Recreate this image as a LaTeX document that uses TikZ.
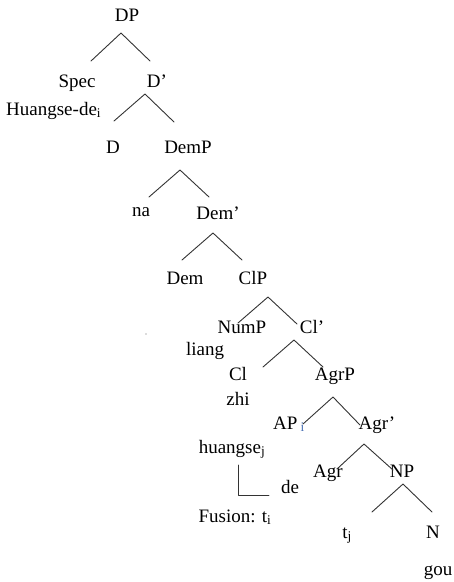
\documentclass[tikz,border=0pt]{standalone}
\usepackage{fontspec}
\setmainfont{Liberation Serif}
\definecolor{subblue}{RGB}{70,110,180}
\tikzset{
	lbl/.style={anchor=base, inner sep=0pt, font=\fontsize{19}{21}\selectfont},
	branch/.style={draw=black!80, line width=0.9pt},
}
\begin{document}
\begin{tikzpicture}[x=1pt, y=-1pt, line cap=round, line join=round]
	\useasboundingbox (0,0) rectangle (454,582);
	
	% tree labels
	\node[lbl] (dp) at (127,21) {DP};
	\node[lbl] (spec) at (77,87) {Spec};
	\node[lbl] (dbar) at (157,87) {D'};
	\node[lbl, anchor=base west] (hdei) at (6,115) {Huangse-de\textsubscript{i}};
	\node[lbl] (d) at (113,153) {D};
	\node[lbl] (demp) at (188,153) {DemP};
	\node[lbl] (na) at (141,216) {na};
	\node[lbl] (dembar) at (218,219) {Dem'};
	\node[lbl] (dem) at (185,284) {Dem};
	\node[lbl] (clp) at (253,284) {ClP};
	\node[lbl] (nump) at (242,333) {NumP};
	\node[lbl] (clbar) at (312,333) {Cl'};
	\node[lbl] (liang) at (205,355) {liang};
	\node[lbl] (cl) at (238,380) {Cl};
	\node[lbl] (agrp) at (335,380) {AgrP};
	\node[lbl] (zhi) at (238,405) {zhi};
	\node[lbl, anchor=base west] (ap) at (273,429) {AP\,\textsubscript{\color{subblue}i}};
	\node[lbl] (agrbar) at (377,429) {Agr'};
	\node[lbl] (huangse) at (232,453) {huangse\textsubscript{j}};
	\node[lbl] (agr) at (328,477) {Agr};
	\node[lbl] (np) at (402,477) {NP};
	\node[lbl] (de) at (290,493) {de};
	\node[lbl] (fusion) at (235,522) {Fusion: t\textsubscript{i}};
	\node[lbl] (tj) at (347,538) {t\textsubscript{j}};
	\node[lbl] (n) at (433,538) {N};
	\node[lbl] (gou) at (438,575) {gou};
	
	% branches: apex / left end / right end
	\foreach \b/\ax/\ay/\lx/\ly/\rx/\ry in {
		dp/121/33/91/61/150/61, dbar/145/94/114/121/174/122,
		demp/180/170/149/197/209/197, dembar/213/233/182/260/242/260,
		clp/268/297/238/323/297/324, clbar/294/340/263/367/323/367,
		agrp/333/397/303/424/360/425, agrbar/364/444/337/469/393/470,
		np/403/484/372/512/432/512}{
		\coordinate (\b-top) at (\ax,\ay);
		\coordinate (\b-l) at (\lx,\ly);
		\coordinate (\b-r) at (\rx,\ry);
		\draw[branch] (\b-l) -- (\b-top) -- (\b-r);
	}
	
	% fusion bracket
	\coordinate (fus-a) at (238,465);
	\coordinate (fus-b) at (238,495);
	\coordinate (fus-c) at (269,495);
	\draw[branch] (fus-a) -- (fus-b) -- (fus-c);
	
	\fill[black!60] (146,334) circle (0.6);
\end{tikzpicture}
\end{document}
